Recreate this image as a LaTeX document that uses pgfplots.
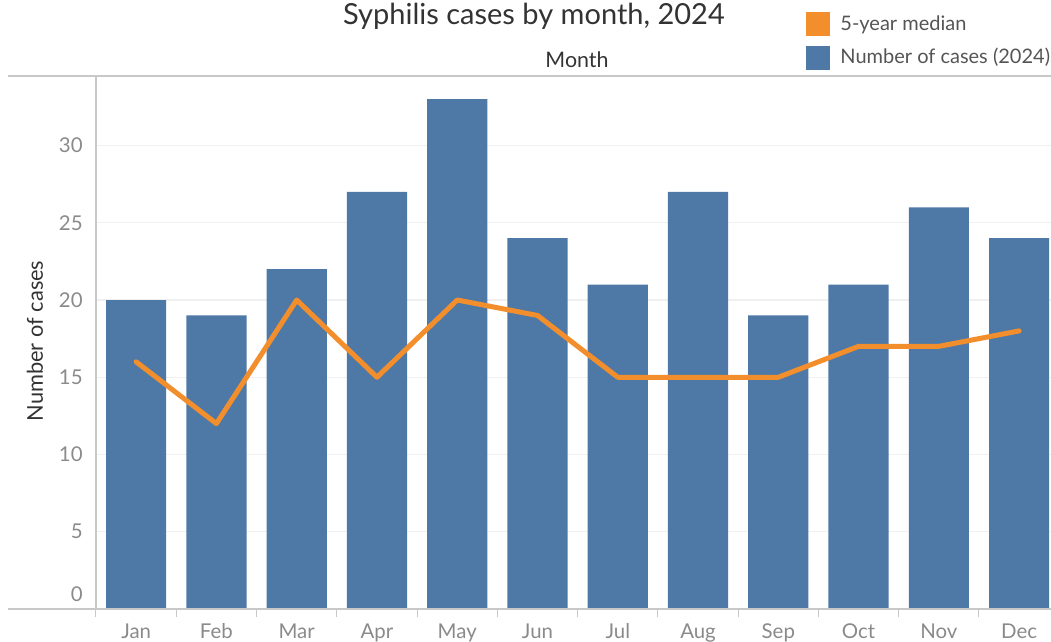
\documentclass[border=0pt]{standalone}
\usepackage{pgfplots}
\pgfplotsset{compat=1.18}
\usepackage{fontspec}
\setmainfont{Lato}
\definecolor{barblue}{HTML}{4E79A7}
\definecolor{medorange}{HTML}{F28E2B}
\definecolor{axgray}{HTML}{C8C8C8}
\definecolor{gridgray}{HTML}{F0F0F0}
\definecolor{ticktext}{HTML}{8A8A8A}
\definecolor{darktext}{HTML}{333333}
\definecolor{legtext}{HTML}{555555}
\begin{document}
\begin{tikzpicture}[x=0.5pt,y=0.5pt]
\begin{axis}[
  at={(0,0)}, anchor=south west,
  scale only axis, width=477.5pt, height=266.5pt,
  xmin=-0.5, xmax=11.397, ymin=0, ymax=34.5,
  axis line style={draw=none},
  /pgf/number format/assume math mode=true,
  xtick={0,...,11},
  xticklabels={Jan,Feb,Mar,Apr,May,Jun,Jul,Aug,Sep,Oct,Nov,Dec},
  ytick={5,10,...,30},
  extra y ticks={0},
  extra y tick style={yticklabel style={yshift=7.5pt}, ymajorgrids=false},
  extra x ticks={-0.5,0.5,...,10.5},
  extra x tick labels={},
  extra x tick style={major tick length=4pt, tick align=outside, xtick pos=bottom,
     tick style={draw=axgray, line width=0.5pt}},
  major tick length=0pt,
  ymajorgrids, grid style={draw=gridgray, line width=0.6pt},
  xticklabel style={anchor=base, inner sep=0pt, yshift=-15pt, text=ticktext, font=\fontsize{10.2}{12}\selectfont},
  yticklabel style={anchor=east, inner sep=0pt, xshift=-6.5pt, text=ticktext, font=\fontsize{10.2}{12}\selectfont},
  clip=false,
]
\addplot[ybar, bar width=0.75, fill=barblue, draw=none] coordinates {
(0,20) (1,19) (2,22) (3,27) (4,33) (5,24) (6,21) (7,27) (8,19) (9,21) (10,26) (11,24)};
\addplot[medorange, line width=2.5pt, mark=none, line join=round, line cap=round] coordinates {
(0,16) (1,12) (2,20) (3,15) (4,20) (5,19) (6,15) (7,15) (8,15) (9,17) (10,17) (11,18)};
\end{axis}
% axis frame lines (px coordinates, origin at plot bottom-left)
\draw[axgray, line width=0.6pt] (0,0) -- (0,533);
\draw[axgray, line width=0.6pt] (-88,533) -- (955,533);
\draw[axgray, line width=0.6pt] (-88,0) -- (955,0);
% texts
\node[anchor=base, text=darktext, font=\fontsize{14.5}{16}\selectfont, inner sep=0pt] at (438,584) {Syphilis cases by month, 2024};
\node[anchor=base, text=darktext, font=\fontsize{10.7}{12}\selectfont, inner sep=0pt] at (481,541) {Month};
\node[rotate=90, text=darktext, font=\fontsize{10.9}{12}\selectfont, inner sep=0pt] at (-61,268) {Number of cases};
% legend
\fill[medorange] (710,573) rectangle (734,597);
\fill[barblue] (710,539) rectangle (734,563);
\node[anchor=base west, text=legtext, font=\fontsize{10}{12}\selectfont, inner sep=0pt] at (744,578) {5-year median};
\node[anchor=base west, text=legtext, font=\fontsize{10}{12}\selectfont, inner sep=0pt] at (744,545) {Number of cases (2024)};
\pgfresetboundingbox
\useasboundingbox (-96,-33) rectangle (955,609);
\end{tikzpicture}
\end{document}
